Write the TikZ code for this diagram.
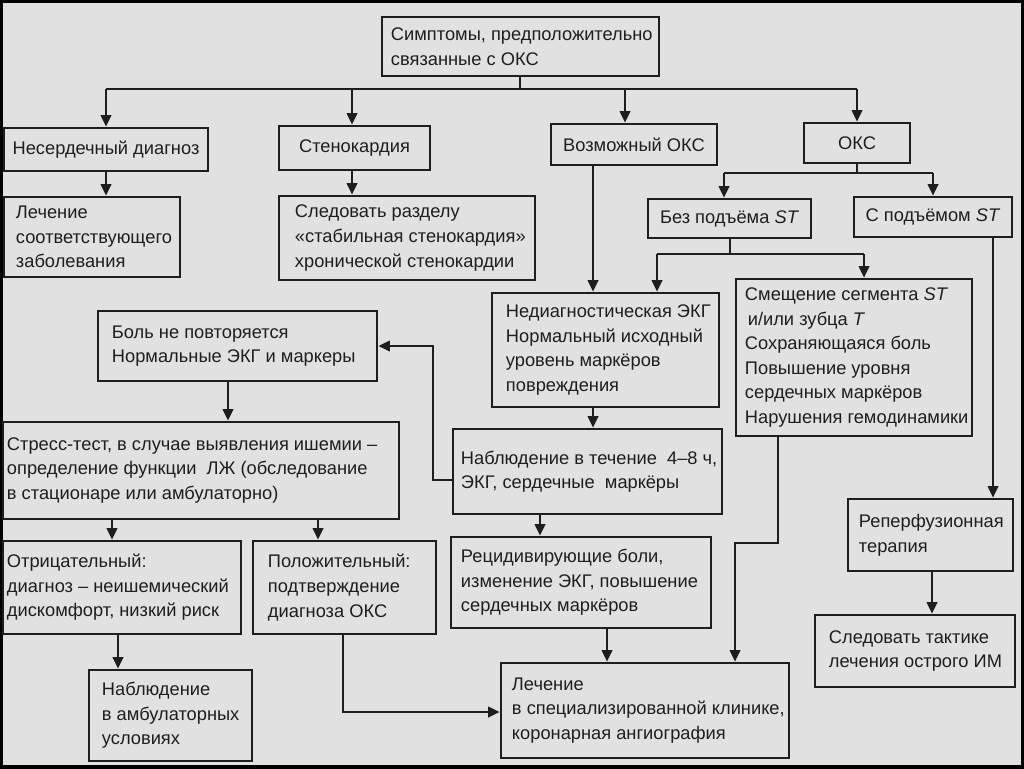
\documentclass[tikz,border=0pt]{standalone}
\usepackage{fontspec}
\setmainfont{Liberation Sans}
\usetikzlibrary{arrows.meta,calc}
\definecolor{bg}{RGB}{225,225,225}
\definecolor{ink}{RGB}{30,30,30}
\newcommand\dfont{\fontsize{13pt}{17.5pt}\selectfont}
\newcommand\mkbox[6]{%
  \pgfmathsetmacro\bxw{(#4-#2)*0.25}%
  \pgfmathsetmacro\bxh{(#5-#3)*0.25}%
  \node[box, minimum width=\bxw mm, minimum height=\bxh mm] (#1) at ({(#2+#4)/2},{(#3+#5)/2}) {#6};}
\newcommand\ltxt[3]{\node[txt] (#1-t) at ($(#1.west)+(#2,0)$) {#3};}
\begin{document}
\begin{tikzpicture}[x=0.25mm,y=-0.25mm,
  box/.style={draw=ink,line width=0.65mm,inner sep=0pt,text=ink,font=\dfont},
  txt/.style={inner sep=0pt,align=left,text=ink,font=\dfont,anchor=west},
  ln/.style={draw=ink,line width=0.6mm},
  arr/.style={ln,-{Triangle[length=2.9mm,width=2.6mm]}}]
\useasboundingbox (0,0) rectangle (1024,768);
\fill[bg] (0,0) rectangle (1024,768);
\draw[line width=1.4mm,black] (0,0) rectangle (1024,768);

% boxes
\mkbox{top}{382}{17}{659}{76}{}
\ltxt{top}{10}{Симптомы, предположительно\\связанные с ОКС}
\mkbox{nd}{4}{128}{208}{171}{Несердечный диагноз}
\mkbox{st}{279}{126}{430}{170}{Стенокардия}
\mkbox{vz}{551}{124}{717}{165}{Возможный ОКС}
\mkbox{oks}{804}{123}{910}{163}{ОКС}
\mkbox{lech}{4}{197}{180}{277}{}
\ltxt{lech}{13}{Лечение\\соответствующего\\заболевания}
\mkbox{sled}{279}{196}{535}{280}{}
\ltxt{sled}{17}{Следовать разделу\\«стабильная стенокардия»\\хронической стенокардии}
\mkbox{bez}{648}{199}{811}{238}{Без подъёма \textit{ST}}
\mkbox{spod}{854}{197}{1012}{237}{С подъёмом \textit{ST}}
\mkbox{bol}{98}{311}{377}{381}{}
\ltxt{bol}{15}{Боль не повторяется\\Нормальные ЭКГ и маркеры}
\mkbox{nediag}{492}{293}{719}{407}{}
\ltxt{nediag}{15}{Недиагностическая ЭКГ\\Нормальный исходный\\уровень маркёров\\повреждения}
\mkbox{smesh}{736}{279}{972}{436}{}
\ltxt{smesh}{10}{Смещение сегмента \textit{ST}\\\hspace*{2pt}и/или зубца \textit{T}\\Сохраняющаяся боль\\Повышение уровня\\сердечных маркёров\\Нарушения гемодинамики}
\mkbox{stress}{3}{422}{399}{519}{}
\ltxt{stress}{5}{Стресс-тест, в случае выявления ишемии –\\определение функции\ \ ЛЖ (обследование\\в стационаре или амбулаторно)}
\mkbox{nabl}{453}{429}{722}{514}{}
\ltxt{nabl}{9}{Наблюдение в течение\ \ 4–8 ч,\\ЭКГ, сердечные\ \ маркёры}
\mkbox{otr}{3}{541}{241}{634}{}
\ltxt{otr}{5}{Отрицательный:\\диагноз – неишемический\\дискомфорт, низкий риск}
\mkbox{pol}{253}{541}{436}{634}{}
\ltxt{pol}{16}{Положительный:\\подтверждение\\диагноза ОКС}
\mkbox{recid}{451}{537}{711}{628}{}
\ltxt{recid}{11}{Рецидивирующие боли,\\изменение ЭКГ, повышение\\сердечных маркёров}
\mkbox{reperf}{848}{499}{1013}{571}{}
\ltxt{reperf}{12}{Реперфузионная\\терапия}
\mkbox{sledt}{815}{615}{1015}{687}{}
\ltxt{sledt}{15}{Следовать тактике\\лечения острого ИМ}
\mkbox{amb}{89}{670}{252}{761}{}
\ltxt{amb}{14}{Наблюдение\\в амбулаторных\\условиях}
\mkbox{lech2}{501}{663}{789}{758}{}
\ltxt{lech2}{12}{Лечение\\в специализированной клинике,\\коронарная ангиография}

% connectors
\coordinate (a0) at (520,89);
\coordinate (a1) at (106,89);
\coordinate (a2) at (352,89);
\coordinate (a3) at (625,89);
\coordinate (a4) at (857,89);
\draw[ln] (top.south -| a0) -- (a0);
\draw[ln] (a1) -- (a4);
\draw[arr] (a1) -- (a1 |- nd.north);
\draw[arr] (a2) -- (a2 |- st.north);
\draw[arr] (a3) -- (a3 |- vz.north);
\draw[arr] (a4) -- (a4 |- oks.north);

\draw[arr] (nd.south) -- (nd.south |- lech.north);
\coordinate (b2) at (352,0);
\draw[arr] (st.south -| b2) -- (sled.north -| b2);

\coordinate (c0) at (857,173);
\coordinate (c1) at (724,173);
\coordinate (c2) at (933,173);
\draw[ln] (oks.south) -- (oks.south |- c0);
\draw[ln] (c1) -- (c2);
\draw[arr] (c1) -- (c1 |- bez.north);
\draw[arr] (c2) -- (c2 |- spod.north);

\coordinate (d0) at (730,254);
\coordinate (d1) at (657,254);
\coordinate (d2) at (864,254);
\draw[ln] (bez.south -| d0) -- (d0);
\draw[ln] (d1) -- (d2);
\draw[arr] (d1) -- (d1 |- nediag.north);
\draw[arr] (d2) -- (d2 |- smesh.north);

\coordinate (e0) at (593,0);
\draw[arr] (vz.south -| e0) -- (nediag.north -| e0);
\draw[arr] (nediag.south -| e0) -- (nabl.north -| e0);
\coordinate (f0) at (993,0);
\draw[arr] (spod.south -| f0) -- (reperf.north -| f0);

\coordinate (g0) at (433,480);
\draw[arr] (nabl.west |- g0) -- (g0) |- (bol.east);
\coordinate (h0) at (228,0);
\draw[arr] (bol.south -| h0) -- (stress.north -| h0);
\coordinate (h1) at (112,0);
\coordinate (h2) at (318,0);
\draw[arr] (stress.south -| h1) -- (otr.north -| h1);
\draw[arr] (stress.south -| h2) -- (pol.north -| h2);
\coordinate (i0) at (540,0);
\draw[arr] (nabl.south -| i0) -- (recid.north -| i0);
\coordinate (j0) at (118,0);
\draw[arr] (otr.south -| j0) -- (amb.north -| j0);
\coordinate (k0) at (343,712);
\draw[arr] (pol.south -| k0) -- (k0) -- (lech2.west |- k0);
\coordinate (l0) at (607,0);
\draw[arr] (recid.south -| l0) -- (lech2.north -| l0);
\coordinate (m0) at (778,543);
\coordinate (m1) at (735,543);
\draw[arr] (smesh.south -| m0) -- (m0) -- (m1) -- (lech2.north -| m1);
\coordinate (n0) at (932,0);
\draw[arr] (reperf.south -| n0) -- (sledt.north -| n0);
\end{tikzpicture}
\end{document}
